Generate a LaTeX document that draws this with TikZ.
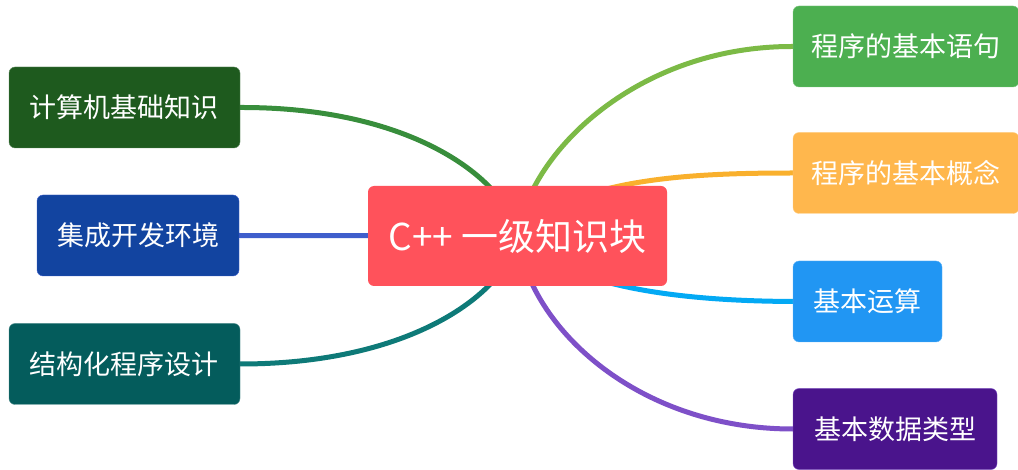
\documentclass[tikz,border=0pt]{standalone}
\usepackage{fontspec}
\setmainfont{Noto Sans CJK SC}
\usetikzlibrary{backgrounds}
\definecolor{rootred}{RGB}{255,82,91}
\definecolor{basegreen}{RGB}{30,90,30}
\definecolor{idesblue}{RGB}{18,68,160}
\definecolor{structteal}{RGB}{4,92,92}
\definecolor{stmtgreen}{RGB}{76,175,80}
\definecolor{conceptorange}{RGB}{255,183,77}
\definecolor{opblue}{RGB}{33,150,243}
\definecolor{typepurple}{RGB}{74,20,140}
\definecolor{lbasegreen}{RGB}{56,142,60}
\definecolor{lideblue}{RGB}{63,94,204}
\definecolor{lstructteal}{RGB}{14,122,120}
\definecolor{lstmtgreen}{RGB}{124,186,70}
\definecolor{lconceptorange}{RGB}{249,176,45}
\definecolor{lopblue}{RGB}{3,169,244}
\definecolor{ltypepurple}{RGB}{126,80,200}
\begin{document}
\begin{tikzpicture}[x=1pt, y=-1pt,
    topic/.style={rectangle, rounded corners=6pt, minimum height=81pt, inner sep=0pt,
        text=white, font=\fontsize{27}{32}\selectfont},
    branch/.style={line width=5pt, line cap=round}]
        \useasboundingbox (0,0) rectangle (1018,470);
        \node[topic, fill=rootred, minimum width=299pt, minimum height=100pt,
            font=\fontsize{37}{42}\selectfont] (root) at (517.5,236){C++ 一级知识块};
        \node[topic, fill=basegreen, draw=basegreen!70!white, minimum width=231pt] (base) at (124.5,107.5){计算机基础知识};
        \node[topic, fill=idesblue, draw=lideblue, minimum width=202pt] (ide) at (138,235.5){集成开发环境};
        \node[topic, fill=structteal, draw=structteal!70!white, minimum width=231pt] (struct) at (124.5,364){结构化程序设计};
        \node[topic, fill=stmtgreen, draw=stmtgreen!70!white, minimum width=226pt] (stmt) at (906,46.5){程序的基本语句};
        \node[topic, fill=conceptorange, draw=conceptorange!70!white, minimum width=226pt] (concept) at (906,173){程序的基本概念};
        \node[topic, fill=opblue, draw=opblue!70!white, minimum width=149pt] (op) at (867.5,301.5){基本运算};
        \node[topic, fill=typepurple, draw=ltypepurple, minimum width=204pt] (dtype) at (895,429){基本数据类型};
        \begin{pgfonlayer}{background}
        \draw[branch, lbasegreen] (base.east) .. controls (420,107) and (510,185) .. (root.center);
        \draw[branch, lideblue] (ide.east) -- (root.center);
        \draw[branch, lstructteal] (struct.east) .. controls (420,364) and (510,287) .. (root.center);
        \draw[branch, lstmtgreen] (root.center) .. controls (530,150) and (640,46) .. (stmt.west);
        \draw[branch, lconceptorange] (root.center) .. controls (570,178) and (690,173) .. (concept.west);
        \draw[branch, lopblue] (root.center) .. controls (570,292) and (700,301) .. (op.west);
        \draw[branch, ltypepurple] (root.center) .. controls (530,330) and (640,429) .. (dtype.west);
        \end{pgfonlayer}
        \end{tikzpicture}
\end{document}
